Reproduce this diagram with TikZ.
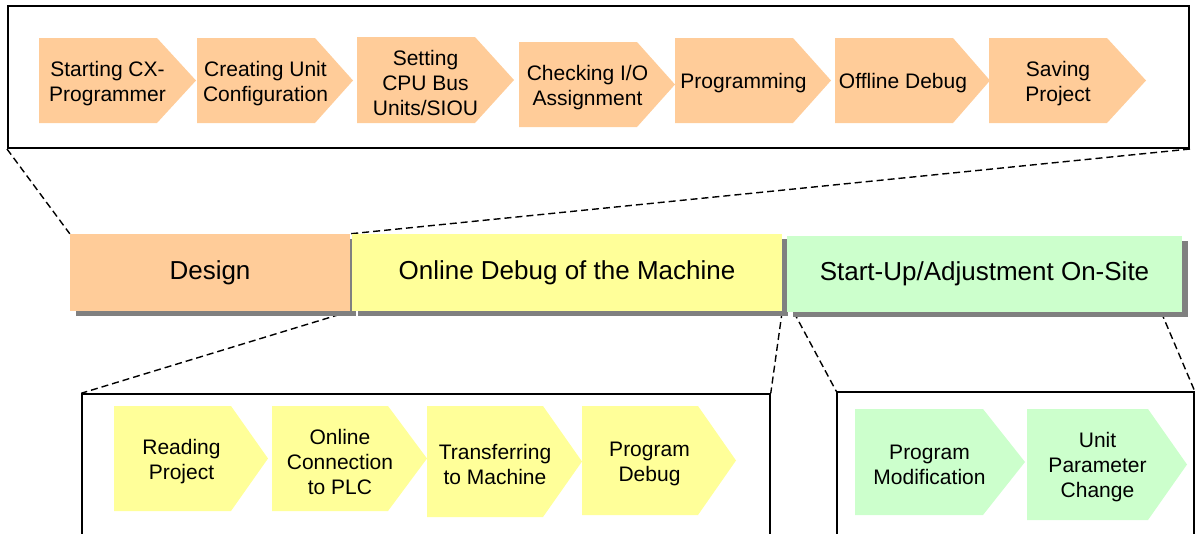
\documentclass[tikz,border=0pt]{standalone}
\usepackage{fontspec}
\setmainfont{Liberation Sans}
\usetikzlibrary{shadows,backgrounds}

\definecolor{designfill}{HTML}{FFCC99}
\definecolor{debugfill}{HTML}{FFFF99}
\definecolor{sitefill}{HTML}{CCFFCC}

\tikzset{
    phase/.style = {minimum height = 77, inner sep = 0, font = \fontsize{26}{30}\selectfont,
        drop shadow = {shadow xshift = 6pt, shadow yshift = -5pt, fill = black!50, opacity = 1}},
    panel/.style = {draw, line width = 1.5pt, inner sep = 0},
    steptext/.style = {inner sep = 0, yshift = -3pt, align = center, font = \fontsize{21}{25}\selectfont},
    zoomline/.style = {line width = 1.4pt, dash pattern = on 7pt off 4pt}
}

\begin{document}
\begin{tikzpicture}[x = 1pt, y = -1pt]
    \path[use as bounding box, clip] (0,0) rectangle (1197,533);
    % panels
    \node[panel, line width = 2pt, minimum width = 1181, minimum height = 142] (designpanel) at (598.5,77) {};
    \node[panel, minimum width = 688, minimum height = 200] (debugpanel) at (426,494) {};
    \node[panel, minimum width = 357, minimum height = 200] (sitepanel) at (1015.5,492) {};
    % phases
    \node[phase, fill = designfill, minimum width = 280] (design) at (210,272.5) {\raisebox{-2pt}{Design}};
    \node[phase, fill = debugfill, minimum width = 430] (debug) at (567,272.5) {\raisebox{-2pt}{Online Debug of the Machine}};
    \node[phase, fill = sitefill, minimum width = 395, minimum height = 76] (site) at (984.5,274) {\raisebox{-2pt}{Start-Up/Adjustment On-Site}};
    \begin{scope}[on background layer]
        \draw[zoomline] (designpanel.south west) -- (design.north west);
        \draw[zoomline] (designpanel.south east) -- (design.north east);
        \draw[zoomline] (design.south east) -- (debugpanel.north west);
        \draw[zoomline] (debug.south east) -- (debugpanel.north east);
        \draw[zoomline] ([xshift = 7pt]site.south west) -- (sitepanel.north west);
        \draw[zoomline] ([xshift = -21pt]site.south east) -- (sitepanel.north east);
    \end{scope}
    % design steps
    \begin{scope}[fill = designfill]
        \fill (39,38) -- (157,38) -- (196,80.5) -- (157,123) -- (39,123) -- cycle;
        \fill (197,38) -- (315,38) -- (353,80.5) -- (315,123) -- (197,123) -- cycle;
        \fill (357,37) -- (475,37) -- (514,80) -- (475,123) -- (357,123) -- cycle;
        \fill (519,42) -- (637,42) -- (675,84.5) -- (637,127) -- (519,127) -- cycle;
        \fill (675,38) -- (793,38) -- (831,80.5) -- (793,123) -- (675,123) -- cycle;
        \fill (835,38) -- (953,38) -- (990,80.5) -- (953,123) -- (835,123) -- cycle;
        \fill (989,38) -- (1107,38) -- (1146,80.5) -- (1107,123) -- (989,123) -- cycle;
    \end{scope}
    \node[steptext] (starting) at (107.5,80.5) {Starting CX-\\Programmer};
    \node[steptext] (unitcfg) at (265.5,80.5) {Creating Unit\\Configuration};
    \node[steptext] (cpubus) at (425.5,80) {Setting\\CPU Bus\\Units/SIOU};
    \node[steptext] (checkio) at (587.5,84.5) {Checking I/O\\Assignment};
    \node[steptext] (programming) at (743.5,80.5) {Programming};
    \node[steptext] (offline) at (903,80.5) {Offline Debug};
    \node[steptext] (saving) at (1058,80.5) {Saving\\Project};
    % debug steps
    \begin{scope}[fill = debugfill]
        \fill (114,406) -- (231,406) -- (268,458.5) -- (231,511) -- (114,511) -- cycle;
        \fill (272,406) -- (388,406) -- (427,458.5) -- (388,511) -- (272,511) -- cycle;
        \fill (427,406) -- (543,406) -- (582,461.5) -- (543,517) -- (427,517) -- cycle;
        \fill (582,406) -- (698,406) -- (736,460.5) -- (698,515) -- (582,515) -- cycle;
    \end{scope}
    \node[steptext] (reading) at (181.5,458.5) {Reading\\Project};
    \node[steptext] (connect) at (340,458.5) {Online\\Connection\\to PLC};
    \node[steptext] (transfer) at (495,461.5) {Transferring\\to Machine};
    \node[steptext] (progdebug) at (649.5,460.5) {Program\\Debug};
    % on-site steps
    \begin{scope}[fill = sitefill]
        \fill (855,409) -- (983,409) -- (1025,462) -- (983,515) -- (855,515) -- cycle;
        \fill (1027,409) -- (1148,409) -- (1187,464.5) -- (1148,520) -- (1027,520) -- cycle;
    \end{scope}
    \node[steptext] (modify) at (929.5,462) {Program\\Modification};
    \node[steptext] (param) at (1097.5,464.5) {Unit\\Parameter\\Change};
\end{tikzpicture}
\end{document}
